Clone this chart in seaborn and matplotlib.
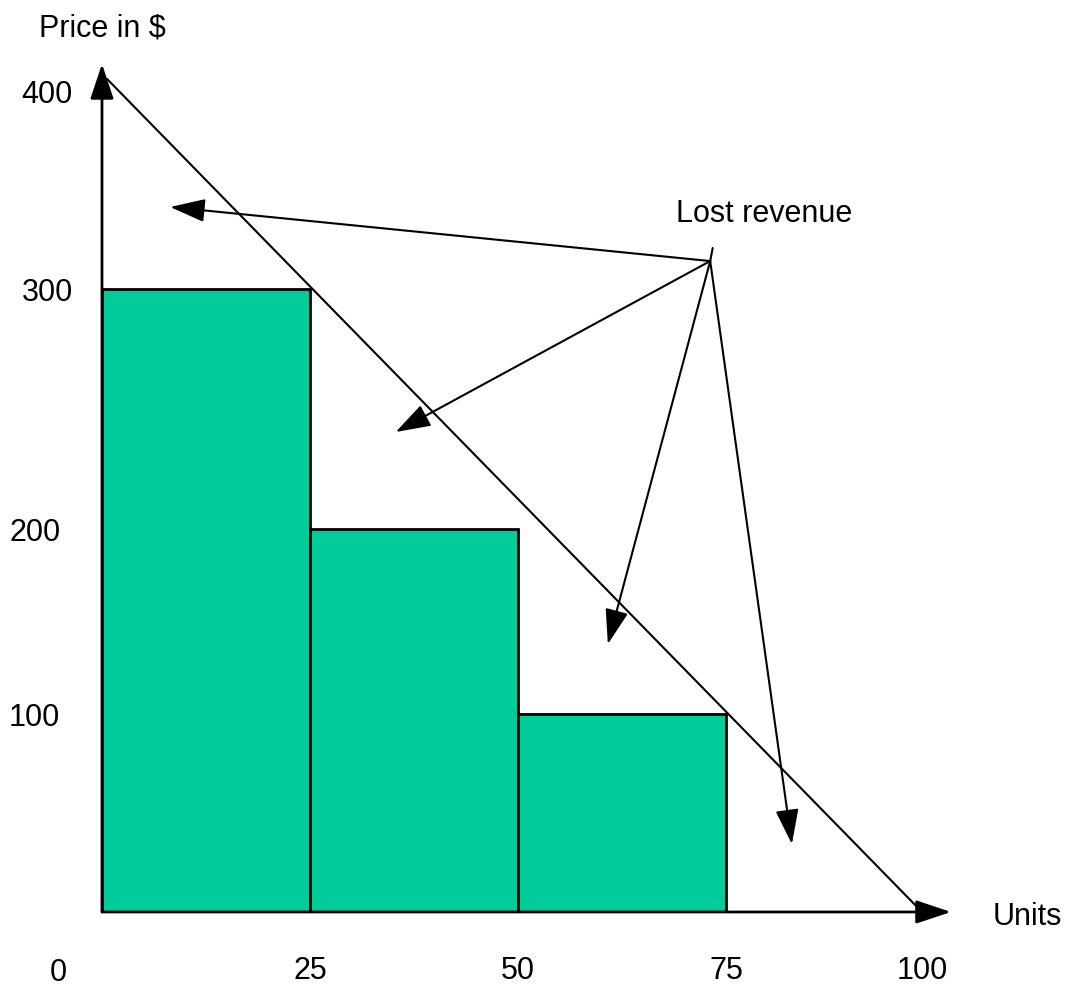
import numpy as np
import matplotlib
matplotlib.use("Agg")
import matplotlib.pyplot as plt
import seaborn as sns

# price charged for each block of 25 units
bar_units = [12.5, 37.5, 62.5]
bar_prices = [300, 200, 100]

# demand line, from the top of the price axis down to the units axis
demand_units = [0.6, 100]
demand_prices = [405.9, 0]

x_ticks = [25, 50, 75, 100]
y_ticks = [100, 200, 300, 400]

# "Lost revenue" arrows: one start point, four targets
lost_from = (73.1, 314.1)
lost_stub = (73.4, 320.7)
lost_to_units = [8.2, 35.3, 60.8, 83.4]
lost_to_prices = [341.4, 240.4, 137.8, 34.3]

# the original sketch is not drawn to scale, so both axes are mapped
# piecewise onto the drawn lengths
unit_knots = [-25, 0, 75, 100, 125]
unit_drawn = [-208, 0, 624, 820, 1016]
price_knots = [-100, 0, 100, 200, 300, 400, 500]
price_drawn = [-198, 0, 198, 383, 623, 821, 1026]


def unit_fwd(v):
    return np.interp(v, unit_knots, unit_drawn)


def unit_inv(v):
    return np.interp(v, unit_drawn, unit_knots)


def price_fwd(v):
    return np.interp(v, price_knots, price_drawn)


def price_inv(v):
    return np.interp(v, price_drawn, price_knots)


sns.set_style("white")
plt.rcParams['font.family'] = ['Liberation Sans', 'DejaVu Sans']
plt.rcParams['text.color'] = 'black'
plt.rcParams['xtick.color'] = 'black'
plt.rcParams['ytick.color'] = 'black'

fig = plt.figure(figsize=(10.69, 9.87), dpi=100)
ax = fig.add_axes([0.0954, 0.0750, 0.7671, 0.8318])
ax.set_xscale('function', functions=(unit_fwd, unit_inv))
ax.set_yscale('function', functions=(price_fwd, price_inv))

sns.barplot(x=bar_units, y=bar_prices, native_scale=True, width=1,
            color='#00CC99', saturation=1, edgecolor='black', linewidth=2,
            errorbar=None, ax=ax)
sns.lineplot(x=demand_units, y=demand_prices, color='black', linewidth=1.5,
             clip_on=False, ax=ax)

ax.set_xlim(0, 100)
ax.set_ylim(0, 400)
for s in ax.spines.values():
    s.set_visible(False)

ax.set_xticks(x_ticks)
ax.set_xticklabels([str(t) for t in x_ticks])
ax.set_yticks(y_ticks)
ax.set_yticklabels([str(t) for t in y_ticks])
ax.xaxis.set_minor_locator(matplotlib.ticker.NullLocator())
ax.yaxis.set_minor_locator(matplotlib.ticker.NullLocator())
ax.tick_params(axis='x', length=0, pad=31, labelsize=22)
ax.tick_params(axis='y', length=0, labelsize=22)
# the lower price labels sit a little further from the axis
for tick, pad in zip(ax.yaxis.get_major_ticks(), [30, 30, 21, 21]):
    tick.set_pad(pad)
ax.set_xlabel('')
ax.set_ylabel('')

head = '-|>,head_length=1.08,head_width=0.36'
axis_arrow = dict(arrowstyle=head, mutation_scale=20, color='black', lw=2,
                  shrinkA=0, shrinkB=0)
ax.annotate('', xy=(0, 413.2), xytext=(0, 0), arrowprops=axis_arrow,
            annotation_clip=False)
ax.annotate('', xy=(103.7, 0), xytext=(0, 0), arrowprops=axis_arrow,
            annotation_clip=False)

lost_arrow = dict(arrowstyle=head, mutation_scale=20, color='black', lw=1.5,
                  shrinkA=0, shrinkB=0)
for ux, py in zip(lost_to_units, lost_to_prices):
    ax.annotate('', xy=(ux, py), xytext=lost_from, arrowprops=lost_arrow,
                annotation_clip=False)
ax.plot([lost_from[0], lost_stub[0]], [lost_from[1], lost_stub[1]],
        color='black', lw=1.5)
ax.text(79.8, 334.3, 'Lost revenue', fontsize=22, ha='center', va='baseline')

# axis titles and the origin label sit outside the plot area
ax.text(0.0, 1.068, 'Price in $', transform=ax.transAxes, fontsize=22,
        ha='center', va='baseline')
ax.text(1.128, -0.0146, 'Units', transform=ax.transAxes, fontsize=22,
        ha='center', va='baseline')
ax.text(-0.0537, -0.083, '0', transform=ax.transAxes, fontsize=22,
        ha='center', va='baseline')

fig.savefig('out.png', dpi=100)
